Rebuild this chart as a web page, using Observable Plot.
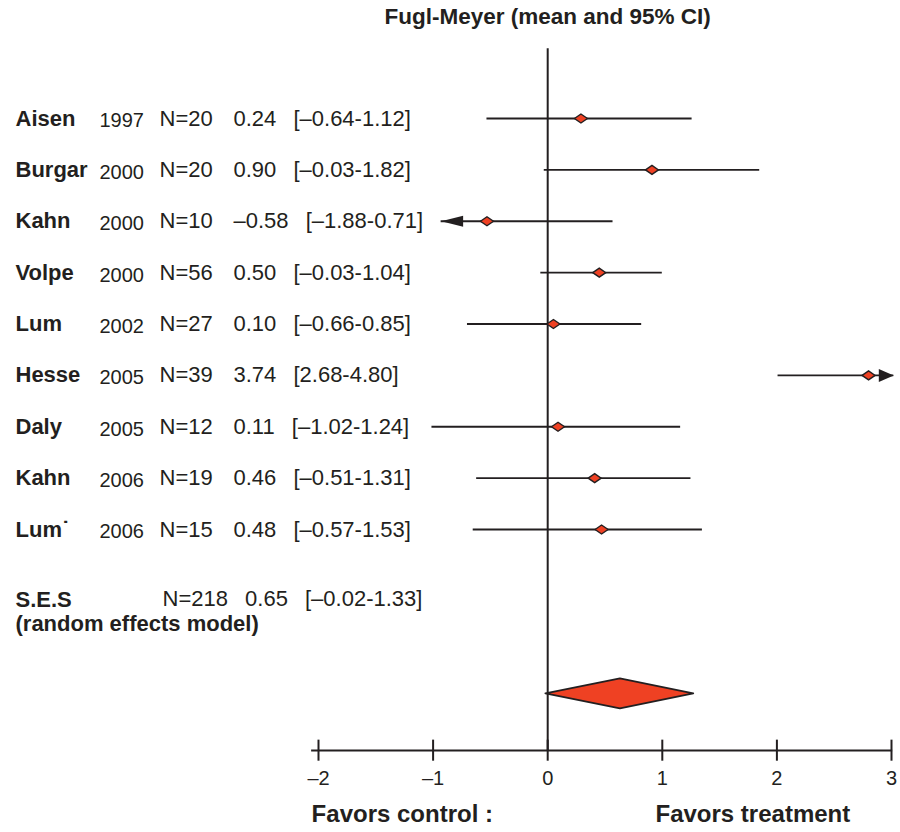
<!DOCTYPE html>
<html><head><meta charset="utf-8">
<script src="https://cdn.jsdelivr.net/npm/d3@7"></script>
<script src="https://cdn.jsdelivr.net/npm/@observablehq/plot@0.6"></script>
<style>html,body{margin:0;padding:0;background:#fff}#chart svg{display:block}</style>
</head><body><div id="chart"></div>
<script>
// ---------- data ----------
const studies   = ["Aisen","Burgar","Kahn","Volpe","Lum","Hesse","Daly","Kahn","Lum\u02D9"];
const years     = [1997,2000,2000,2000,2002,2005,2005,2006,2006];
const sampleN   = [20,20,10,56,27,39,12,19,15];
// values as printed in the text columns
const repMean   = [0.24,0.90,-0.58,0.50,0.10,3.74,0.11,0.46,0.48];
const repLo     = [-0.64,-0.03,-1.88,-0.03,-0.66,2.68,-1.02,-0.51,-0.57];
const repHi     = [1.12,1.82,0.71,1.04,0.85,4.80,1.24,1.31,1.53];
// values as drawn on the plot
const drawMean  = [0.29,0.91,-0.53,0.45,0.05,2.80,0.09,0.41,0.47];
const drawLo    = [-0.53,-0.03,-0.93,-0.06,-0.70,2.01,-1.01,-0.62,-0.65];
const drawHi    = [1.26,1.85,0.57,1.00,0.82,3.02,1.16,1.25,1.35];
const truncLow  = [false,false,true,false,false,false,false,false,false];
const truncHigh = [false,false,false,false,false,true,false,false,false];
// pooled estimate
const pooledLabel = ["S.E.S","(random effects model)"];
const pooledN = 218, pooledRepMean = 0.65, pooledRepLo = -0.02, pooledRepHi = 1.33;
const pooledDraw = {mean: 0.63, lo: -0.02, hi: 1.27};
const xTicks = [-2,-1,0,1,2,3];
const title = "Fugl-Meyer (mean and 95% CI)";
const leftLabel = "Favors control :", rightLabel = "Favors treatment";

// ---------- layout ----------
const W = 900, H = 832;
const xRange = [318, 891];
const px = d3.scaleLinear([-2, 3], xRange);     // to convert text-column pixel offsets
const rowRange = [118, 529];                     // rows 0..8
const ink = "#231f20", red = "#ef4123";
const font = "'Liberation Sans', Arial, Helvetica, sans-serif";
const pooledRow = 11.19, axisRow = 12.30, tickLabelRow = 12.85, favorsRow = 13.55;
const titleRow = -1.97, zeroTopRow = -1.36;
const colName = px.invert(15), colYear = px.invert(99), colN = px.invert(159), colVal = px.invert(233);
const colPooledN = px.invert(162);

const fmt = v => (v < 0 ? "\u2013" : "") + Math.abs(v).toFixed(2);
const rows = studies.map((name, i) => ({
  i, name, year: String(years[i]), n: "N=" + sampleN[i],
  label: fmt(repMean[i]) + "\u2002 [" + fmt(repLo[i]) + "-" + fmt(repHi[i]) + "]",
  mean: drawMean[i], lo: drawLo[i], hi: drawHi[i], tl: truncLow[i], th: truncHigh[i]
}));
const pooledText = "N=" + pooledN + "\u2002 " + fmt(pooledRepMean) + "\u2002 [" + fmt(pooledRepLo) + "-" + fmt(pooledRepHi) + "]";
const hh = 0.29;
const pooledPoly = [
  {x: pooledDraw.lo, y: pooledRow}, {x: pooledDraw.mean, y: pooledRow - hh},
  {x: pooledDraw.hi, y: pooledRow}, {x: pooledDraw.mean, y: pooledRow + hh},
  {x: pooledDraw.lo, y: pooledRow}
];

const diamond = {draw(c){ c.moveTo(-6.5,0); c.lineTo(0,-4.5); c.lineTo(6.5,0); c.lineTo(0,4.5); c.closePath(); }};
const arrowLeft = {draw(c){ c.moveTo(0,0); c.lineTo(22,-5.5); c.lineTo(22,5.5); c.closePath(); }};
const arrowRight = {draw(c){ c.moveTo(0,0); c.lineTo(-15,-6.5); c.lineTo(-15,6.5); c.closePath(); }};

const txt = {fill: ink, fontFamily: font, textAnchor: "start"};
const fs = 22;

const chart = Plot.plot({
  width: W, height: H,
  marginLeft: 0, marginRight: 0, marginTop: 0, marginBottom: 0,
  style: {background: "#fff", fontFamily: font},
  x: {type: "linear", domain: [-2, 3], range: xRange, axis: null},
  y: {type: "linear", domain: [0, 8], range: rowRange, axis: null},
  marks: [
    // zero line
    Plot.ruleX([0], {y1: zeroTopRow, y2: axisRow, stroke: ink, strokeWidth: 2}),
    // axis
    Plot.ruleY([axisRow], {x1: -2.06, x2: 3.01, stroke: ink, strokeWidth: 2}),
    Plot.ruleX(xTicks, {x: d => d, y1: axisRow - 0.2, y2: axisRow + 0.21, stroke: ink, strokeWidth: 2}),
    Plot.text(xTicks, {x: d => d, y: tickLabelRow, text: d => d < 0 ? "\u2013" + (-d) : String(d),
      fill: ink, fontFamily: font, fontSize: 20}),
    // confidence intervals
    Plot.ruleY(rows, {y: "i", x1: "lo", x2: "hi", stroke: ink, strokeWidth: 1.8}),
    Plot.dot(rows.filter(d => d.tl), {x: "lo", y: "i", symbol: arrowLeft, fill: ink, stroke: "none"}),
    Plot.dot(rows.filter(d => d.th), {x: "hi", y: "i", symbol: arrowRight, fill: ink, stroke: "none"}),
    Plot.dot(rows, {x: "mean", y: "i", symbol: diamond, fill: red, stroke: ink, strokeWidth: 1.4}),
    // pooled diamond
    Plot.line(pooledPoly, {x: "x", y: "y", fill: red, stroke: ink, strokeWidth: 1.8, curve: "linear"}),
    // text columns
    Plot.text(rows, {...txt, x: colName, y: "i", text: "name", fontSize: fs, fontWeight: "bold"}),
    Plot.text(rows, {...txt, x: colYear, y: "i", dy: 2.5, text: "year", fontSize: 20}),
    Plot.text(rows, {...txt, x: colN, y: "i", text: "n", fontSize: fs}),
    Plot.text(rows, {...txt, x: colVal, y: "i", text: "label", fontSize: fs}),
    Plot.text([pooledLabel.join("\n")], {...txt, x: colName, y: 9.59, text: d => d, fontSize: fs, fontWeight: "bold", lineHeight: 1.1}),
    Plot.text([pooledText], {...txt, x: colPooledN, y: 9.35, text: d => d, fontSize: fs}),
    // title and footer
    Plot.text([title], {x: 0, y: titleRow, text: d => d, fill: ink, fontFamily: font, fontSize: 22.5, fontWeight: "bold"}),
    Plot.text([leftLabel], {...txt, x: -2.06, y: favorsRow, text: d => d, fontSize: 24, fontWeight: "bold"}),
    Plot.text([rightLabel], {...txt, x: px.invert(655), y: favorsRow, text: d => d, fontSize: 24, fontWeight: "bold"})
  ]
});
document.getElementById("chart").appendChild(chart);
</script>
</body></html>
